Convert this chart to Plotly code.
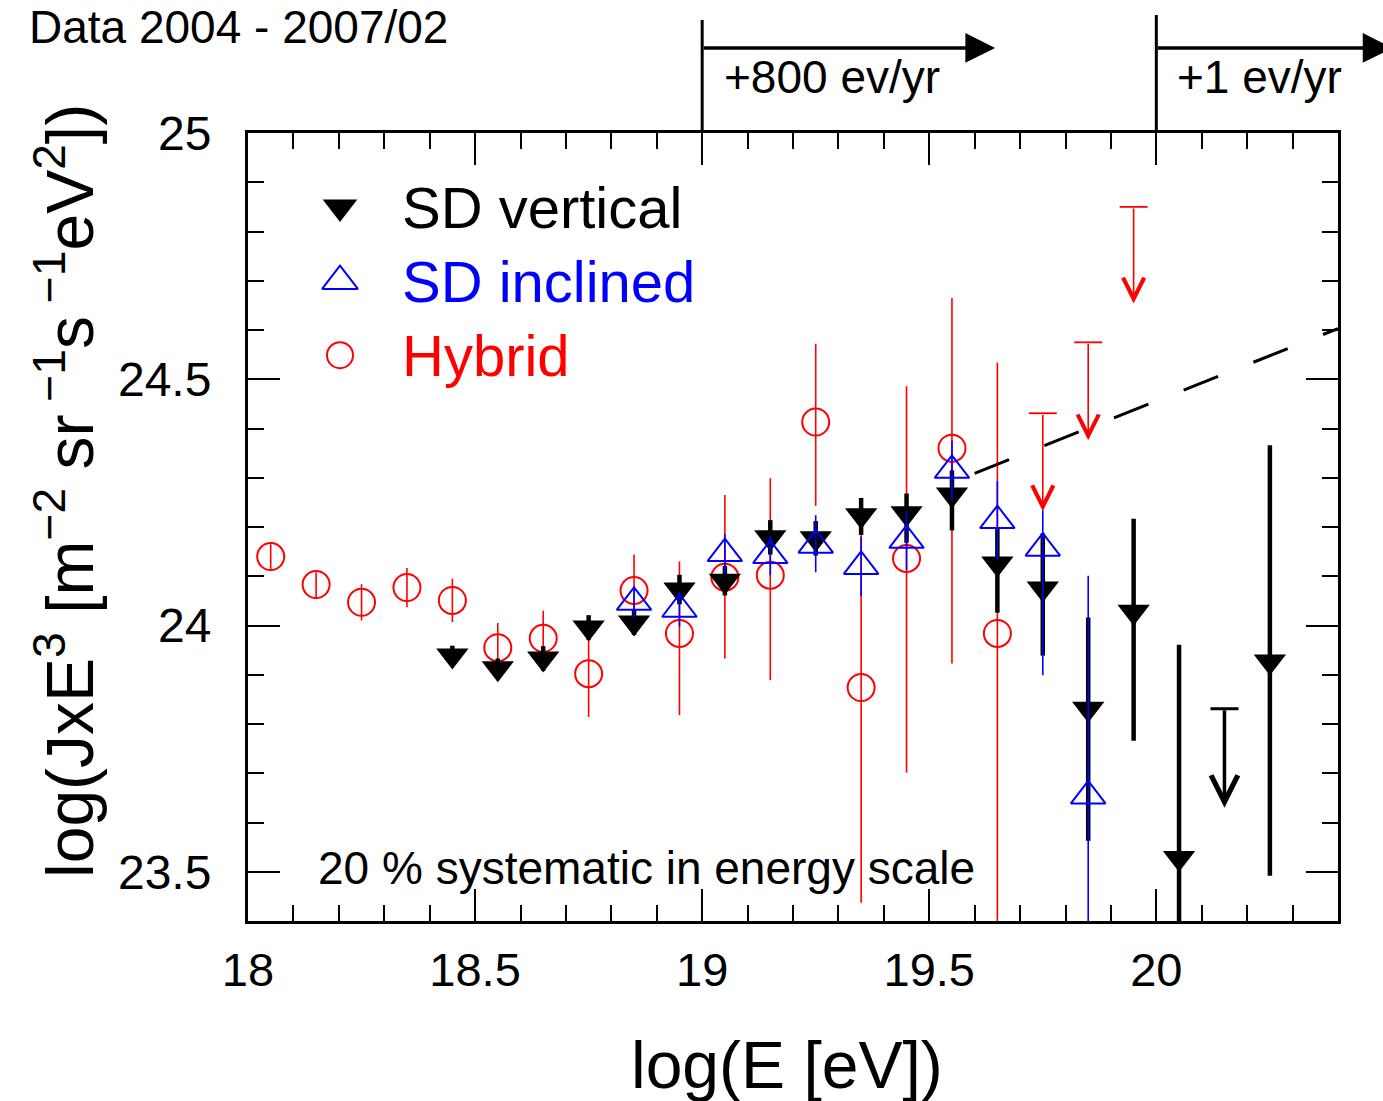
import plotly.graph_objects as go

FONT = "Liberation Sans, Arial, Helvetica, sans-serif"

# ---------------- data ----------------
# SD vertical (filled down triangles)
sdv_E = [18.45, 18.55, 18.65, 18.75, 18.85, 18.95, 19.05, 19.15, 19.25, 19.35,
         19.45, 19.55, 19.65, 19.75, 19.85, 19.95, 20.05, 20.25]
sdv_y = [23.939, 23.913, 23.933, 23.996, 24.006, 24.073, 24.091, 24.179, 24.177, 24.224,
         24.228, 24.266, 24.126, 24.075, 23.831, 24.028, 23.528, 23.927]
sdv_up = [0.02, 0.02, 0.025, 0.025, 0.025, 0.03, 0.03, 0.035, 0.035, 0.035,
          0.04, 0.049, 0.073, 0.112, 0.185, 0.189, 0.433, 0.439]
sdv_dn = [0.02, 0.02, 0.025, 0.025, 0.025, 0.03, 0.03, 0.035, 0.035, 0.04,
          0.06, 0.073, 0.10, 0.136, 0.268, 0.262, 0.50, 0.435]
# SD vertical upper limit (cap value, arrow tip value)
sdv_ul_E = [20.15]
sdv_ul_cap = [23.831]
sdv_ul_tip = [23.630]

# SD inclined (open up triangles)
sdi_E = [18.85, 18.95, 19.05, 19.15, 19.25, 19.35, 19.45, 19.55, 19.65, 19.75, 19.85]
sdi_y = [24.047, 24.033, 24.146, 24.142, 24.163, 24.120, 24.173, 24.315, 24.213, 24.157, 23.654]
sdi_up = [0.03, 0.035, 0.04, 0.04, 0.061, 0.06, 0.06, 0.06, 0.08, 0.077, 0.447]
sdi_dn = [0.03, 0.035, 0.04, 0.04, 0.055, 0.06, 0.06, 0.06, 0.08, 0.258, 0.60]

# Hybrid (open circles)
hyb_E = [18.05, 18.15, 18.25, 18.35, 18.45, 18.55, 18.65, 18.75, 18.85, 18.95,
         19.05, 19.15, 19.25, 19.35, 19.45, 19.55, 19.65]
hyb_y = [24.140, 24.083, 24.047, 24.077, 24.051, 23.955, 23.974, 23.902, 24.071, 23.984,
         24.098, 24.102, 24.413, 23.874, 24.136, 24.360, 23.984]
hyb_up = [0.025, 0.025, 0.037, 0.04, 0.044, 0.05, 0.056, 0.07, 0.073, 0.146,
          0.167, 0.197, 0.159, 0.32, 0.35, 0.305, 0.55]
hyb_dn = [0.025, 0.025, 0.037, 0.04, 0.044, 0.05, 0.056, 0.088, 0.075, 0.166,
          0.165, 0.213, 0.17, 0.437, 0.435, 0.437, 0.60]
# Hybrid upper limits
hyb_ul_E = [19.75, 19.85, 19.95]
hyb_ul_cap = [24.431, 24.575, 24.850]
hyb_ul_tip = [24.232, 24.376, 24.654]

# dashed extrapolation line
dash_E = [19.6, 20.4]
dash_y = [24.309, 24.603]

x_ticks = [18, 18.5, 19, 19.5, 20]
x_ticklabels = ["18", "18.5", "19", "19.5", "20"]
y_ticks = [23.5, 24, 24.5, 25]
y_ticklabels = ["23.5", "24", "24.5", "25"]

legend_names = ["SD vertical", "SD inclined", "Hybrid"]

BLACK = "#000000"
BLUE = "#0000ff"
RED = "#ff0000"

fig = go.Figure()

# Hybrid
fig.add_trace(go.Scatter(
    x=hyb_E, y=hyb_y, mode="markers", showlegend=False,
    marker=dict(symbol="circle-open", size=27, color=RED, line=dict(width=2, color=RED)),
    error_y=dict(type="data", symmetric=False, array=hyb_up, arrayminus=hyb_dn,
                 color=RED, thickness=1.6, width=0)))
# Hybrid upper-limit caps
fig.add_trace(go.Scatter(
    x=hyb_ul_E, y=hyb_ul_cap, mode="markers", showlegend=False,
    marker=dict(symbol="line-ew", size=20, color=RED, line=dict(width=1.8, color=RED))))

# SD vertical
fig.add_trace(go.Scatter(
    x=sdv_E, y=sdv_y, mode="markers", showlegend=False,
    marker=dict(symbol="triangle-down", size=28, color=BLACK, line=dict(width=0)),
    error_y=dict(type="data", symmetric=False, array=sdv_up, arrayminus=sdv_dn,
                 color=BLACK, thickness=4.5, width=0)))
fig.add_trace(go.Scatter(
    x=sdv_ul_E, y=sdv_ul_cap, mode="markers", showlegend=False,
    marker=dict(symbol="line-ew", size=20, color=BLACK, line=dict(width=3, color=BLACK))))

# SD inclined
fig.add_trace(go.Scatter(
    x=sdi_E, y=sdi_y, mode="markers", showlegend=False,
    marker=dict(symbol="triangle-up-open", size=30, color=BLUE, line=dict(width=2, color=BLUE)),
    error_y=dict(type="data", symmetric=False, array=sdi_up, arrayminus=sdi_dn,
                 color=BLUE, thickness=1.6, width=0)))

# dashed line
fig.add_trace(go.Scatter(
    x=dash_E, y=dash_y, mode="lines", showlegend=False,
    line=dict(color=BLACK, width=3, dash="37px,38px")))

# legend glyphs on an overlay axis in [0,1]
leg_x = 0.0844
leg_y = [0.906, 0.812, 0.718]
leg_sym = ["triangle-down", "triangle-up-open", "circle-open"]
leg_size = [30, 31, 26]
leg_col = [BLACK, BLUE, RED]
for yy, sym, sz, col in zip(leg_y, leg_sym, leg_size, leg_col):
    fig.add_trace(go.Scatter(
        x=[leg_x], y=[yy], xaxis="x2", yaxis="y2", mode="markers", showlegend=False,
        cliponaxis=False,
        marker=dict(symbol=sym, size=sz, color=col,
                    line=dict(width=0 if sym == "triangle-down" else 2, color=col))))

annotations = []
# legend text
for name, yy, col in zip(legend_names, leg_y, leg_col):
    annotations.append(dict(text=name, x=0.1394, y=yy, xref="paper", yref="paper",
                            xanchor="left", yanchor="middle", showarrow=False,
                            font=dict(family=FONT, size=58, color=col)))

# upper-limit arrows
for e, cap, tip in zip(hyb_ul_E, hyb_ul_cap, hyb_ul_tip):
    annotations.append(dict(text="", x=e, y=tip, xref="x", yref="y",
                            ax=e, ay=cap, axref="x", ayref="y", showarrow=True,
                            arrowhead=5, arrowsize=2.6, arrowwidth=1.6, arrowcolor=RED))
for e, cap, tip in zip(sdv_ul_E, sdv_ul_cap, sdv_ul_tip):
    annotations.append(dict(text="", x=e, y=tip, xref="x", yref="y",
                            ax=e, ay=cap, axref="x", ayref="y", showarrow=True,
                            arrowhead=5, arrowsize=1.5, arrowwidth=3.5, arrowcolor=BLACK))

# top arrows (exposure markers)
annotations.append(dict(text="", x=19.645, y=1.108, xref="x", yref="paper",
                        ax=19.0, ay=0, axref="x", ayref="pixel", showarrow=True,
                        arrowhead=2, arrowsize=1.7, arrowwidth=3.5, arrowcolor=BLACK))
annotations.append(dict(text="", x=20.52, y=1.108, xref="x", yref="paper",
                        ax=20.0, ay=0, axref="x", ayref="pixel", showarrow=True,
                        arrowhead=2, arrowsize=1.7, arrowwidth=3.5, arrowcolor=BLACK))
annotations.append(dict(text="+800 ev/yr", x=0.4349, y=1.071, xref="paper", yref="paper",
                        xanchor="left", yanchor="middle", showarrow=False,
                        font=dict(family=FONT, size=46, color=BLACK)))
annotations.append(dict(text="+1 ev/yr", x=0.8505, y=1.071, xref="paper", yref="paper",
                        xanchor="left", yanchor="middle", showarrow=False,
                        font=dict(family=FONT, size=46, color=BLACK)))
annotations.append(dict(text="Data 2004 - 2007/02", x=-0.2025, y=1.135, xref="paper", yref="paper",
                        xanchor="left", yanchor="middle", showarrow=False,
                        font=dict(family=FONT, size=46, color=BLACK)))
annotations.append(dict(text="20 % systematic in energy scale", x=0.0625, y=0.0673,
                        xref="paper", yref="paper", xanchor="left", yanchor="middle",
                        showarrow=False, font=dict(family=FONT, size=46, color=BLACK)))
# axis titles
annotations.append(dict(text="log(E [eV])", x=0.4945, y=-0.1827, xref="paper", yref="paper",
                        xanchor="center", yanchor="middle", showarrow=False,
                        font=dict(family=FONT, size=66, color=BLACK)))
annotations.append(dict(text="log(JxE<sup>3</sup> [m<sup>\u22122</sup> sr<sup> \u22121</sup>s<sup> \u22121</sup>eV<sup>2</sup>])",
                        x=-0.1679, y=0.5457, xref="paper", yref="paper", textangle=-90,
                        xanchor="center", yanchor="middle", showarrow=False,
                        font=dict(family=FONT, size=66, color=BLACK)))

shapes = [
    dict(type="line", xref="x", yref="paper", x0=19, x1=19, y0=1.0, y1=1.1434,
         line=dict(color=BLACK, width=3)),
    dict(type="line", xref="x", yref="paper", x0=20, x1=20, y0=1.0, y1=1.1497,
         line=dict(color=BLACK, width=3)),
]

axis_common = dict(showgrid=False, zeroline=False, showline=True, linecolor=BLACK,
                   linewidth=3, mirror="ticks", ticks="inside", ticklen=32, tickwidth=2,
                   tickcolor=BLACK)

fig.update_layout(
    width=1383, height=1101,
    margin=dict(l=248, r=45, t=133, b=180),
    paper_bgcolor="white", plot_bgcolor="white",
    showlegend=False,
    xaxis=dict(range=[18, 20.4], tickvals=x_ticks, ticktext=x_ticklabels,
               ticklabelstandoff=6, tickfont=dict(family=FONT, size=47, color=BLACK),
               minor=dict(dtick=0.1, tick0=18, ticks="inside", ticklen=16, tickwidth=2,
                          tickcolor=BLACK),
               **axis_common),
    yaxis=dict(range=[23.4, 25], tickvals=y_ticks, ticktext=y_ticklabels,
               ticklabelstandoff=24, tickfont=dict(family=FONT, size=48, color=BLACK),
               minor=dict(dtick=0.1, tick0=23.4, ticks="inside", ticklen=16, tickwidth=2,
                          tickcolor=BLACK),
               **axis_common),
    xaxis2=dict(overlaying="x", range=[0, 1], visible=False, anchor="y2"),
    yaxis2=dict(overlaying="y", range=[0, 1], visible=False, anchor="x2"),
    annotations=annotations,
    shapes=shapes,
    font=dict(family=FONT, color=BLACK),
)

fig.write_html("out.html")
